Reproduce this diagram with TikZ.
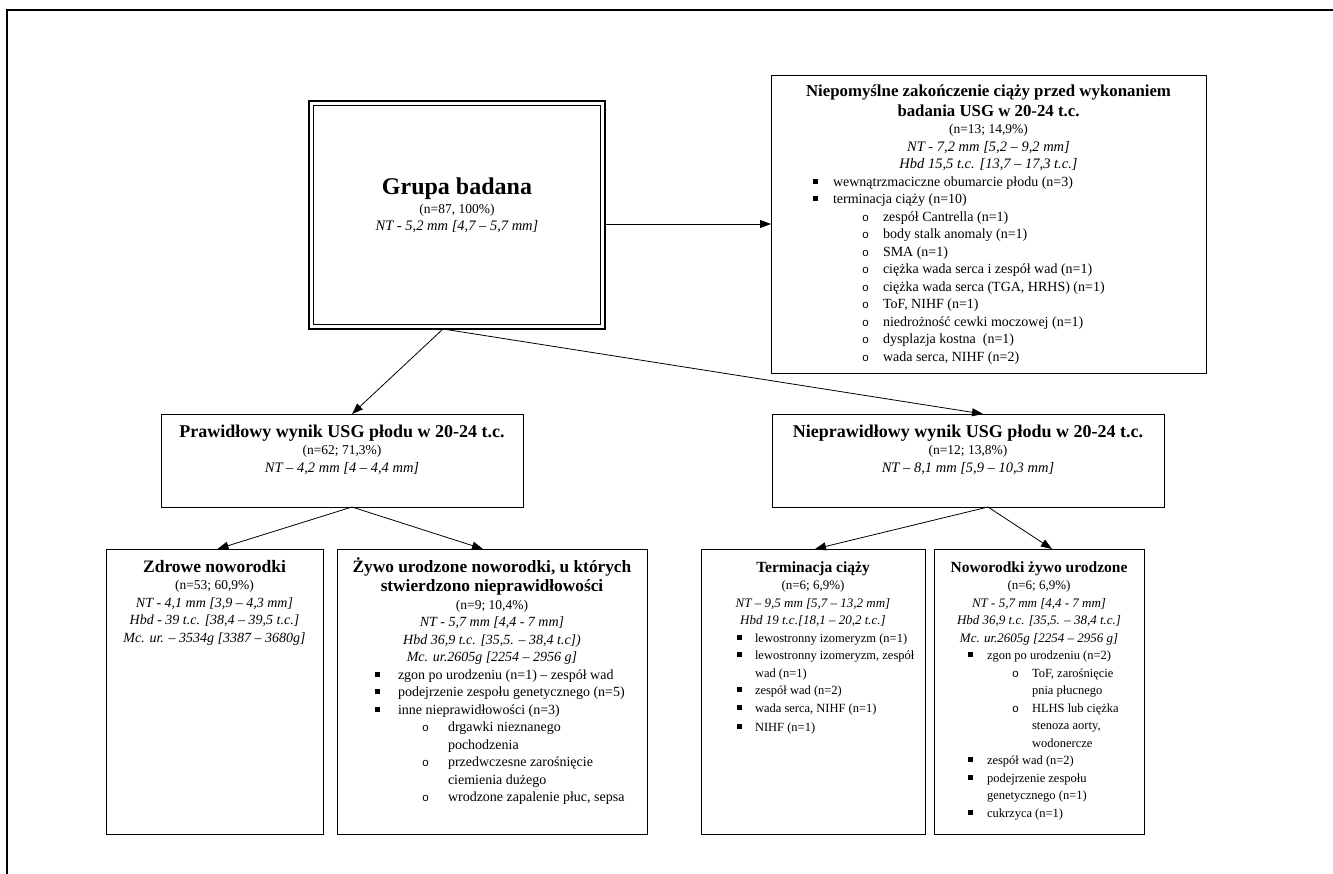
\documentclass[tikz,border=0pt]{standalone}
\usepackage{fontspec}
\setmainfont{Liberation Serif}
\newfontfamily\monof{Liberation Mono}
\usetikzlibrary{arrows.meta}
\newcommand\mySq{\raisebox{2.5pt}{\rule{5pt}{5pt}}}
\newcommand\myCi{{\monof\fontsize{11.5}{11.5}\selectfont o}}
\newcommand\nsz{13.5}
\newcommand\isz{14}
\newcommand\myBox[4]{\parbox[t][#2pt][t]{#1pt}{\fontsize{#3}{17.5}\selectfont\hyphenpenalty=10000 #4}}
\newcommand\myT[3]{{\centering\fontsize{#1}{19.5}\selectfont\bfseries\rule{0pt}{#2pt}#3\par}}
\newcommand\myC[1]{{\centering\fontsize{\nsz}{17.5}\selectfont #1\par}}
\newcommand\myI[1]{{\centering\fontsize{\isz}{17.5}\selectfont\itshape #1\par}}
\newcommand\myB[3]{\noindent\rlap{\hspace*{#1pt}\mySq}\hspace*{#2pt}\mbox{#3}\par}
\newcommand\myO[3]{\noindent\rlap{\hspace*{#1pt}\myCi}\hspace*{#2pt}\mbox{#3}\par}
\newcommand\myL[2]{\noindent\hspace*{#1pt}\mbox{#2}\par}
\begin{document}
\begin{tikzpicture}[x=1pt,y=-1pt,
  box/.style={draw, line width=0.9pt, inner sep=0pt, outer sep=0pt, anchor=north west},
  arr/.style={line width=0.8pt, -{Triangle[length=11pt,width=8pt]}}]
\useasboundingbox (0,0) rectangle (1333,874);
\fill[white] (0,0) rectangle (1333,874);
\draw[line width=1.3pt] (7,874) -- (7,10) -- (1333,10);

% Grupa badana
\node[box, line width=2.2pt] (grupa) at (309,101) {\myBox{296}{228}{14}{%
  \renewcommand\isz{14.5}%
  \myT{24}{94}{Grupa badana}\vspace{1pt}
  \myC{(n=87, 100\%)}
  \myI{NT - 5,2 mm [4,7 – 5,7 mm]}}};
\draw[line width=1.2pt] ([shift={(4.5pt,-4.5pt)}]grupa.north west) rectangle ([shift={(-4.5pt,4.5pt)}]grupa.south east);

% top right
\node[box] (top) at (771,75) {\myBox{435}{298}{14}{%
  \renewcommand\isz{14.5}%
  \myT{16.8}{22}{Niepomyślne zakończenie ciąży przed wykonaniem\\ badania USG w 20-24 t.c.}
  \myC{(n=13; 14,9\%)}
  \myI{NT - 7,2 mm [5,2 – 9,2 mm]}
  \myI{Hbd 15,5 t.c. [13,7 – 17,3 t.c.]}
  \myB{42}{62}{wewnątrzmaciczne obumarcie płodu (n=3)}
  \myB{42}{62}{terminacja ciąży (n=10)}
  \myO{91}{112}{zespół Cantrella (n=1)}
  \myO{91}{112}{body stalk anomaly (n=1)}
  \myO{91}{112}{SMA (n=1)}
  \myO{91}{112}{ciężka wada serca i zespół wad (n=1)}
  \myO{91}{112}{ciężka wada serca (TGA, HRHS) (n=1)}
  \myO{91}{112}{ToF, NIHF (n=1)}
  \myO{91}{112}{niedrożność cewki moczowej (n=1)}
  \myO{91}{112}{dysplazja kostna\ \ (n=1)}
  \myO{91}{112}{wada serca, NIHF (n=2)}}};

% second row
\node[box] (praw) at (161,414) {\myBox{362}{93}{14}{%
  \renewcommand\isz{14.5}%
  \myT{18}{23}{Prawidłowy wynik USG płodu w 20-24 t.c.}
  \myC{(n=62; 71,3\%)}
  \myI{NT – 4,2 mm [4 – 4,4 mm]}}};
\node[box] (niep) at (772,414) {\myBox{392}{93}{14}{%
  \renewcommand\isz{14.5}%
  \myT{18}{23}{Nieprawidłowy wynik USG płodu w 20-24 t.c.}
  \myC{(n=12; 13,8\%)}
  \myI{NT – 8,1 mm [5,9 – 10,3 mm]}}};

% third row
\node[box] (zdrowe) at (106,549) {\myBox{217}{285}{14}{%
  \myT{17.5}{23}{Zdrowe noworodki}
  \myC{(n=53; 60,9\%)}
  \myI{NT - 4,1 mm [3,9 – 4,3 mm]}
  \myI{Hbd - 39 t.c. [38,4 – 39,5 t.c.]}
  \myI{Mc. ur. – 3534g [3387 – 3680g]}}};
\node[box] (zywo) at (337,549) {\myBox{310}{285}{14}{%
  \myT{17.3}{23}{Żywo urodzone noworodki, u których\\ stwierdzono nieprawidłowości}
  \myC{(n=9; 10,4\%)}
  \myI{NT - 5,7 mm [4,4 - 7 mm]}
  \myI{Hbd 36,9 t.c. [35,5. – 38,4 t.c])}
  \myI{Mc. ur.2605g [2254 – 2956 g]}
  \myB{38}{61}{zgon po urodzeniu (n=1) – zespół wad}
  \myB{38}{61}{podejrzenie zespołu genetycznego (n=5)}
  \myB{38}{61}{inne nieprawidłowości (n=3)}
  \myO{85}{111}{drgawki nieznanego}
  \myL{111}{pochodzenia}
  \myO{85}{111}{przedwczesne zarośnięcie}
  \myL{111}{ciemienia dużego}
  \myO{85}{111}{wrodzone zapalenie płuc, sepsa}}};
\node[box] (term) at (701,549) {\myBox{224}{285}{12.5}{%
  \renewcommand\isz{13}\renewcommand\nsz{13}%
  \myT{15.5}{23}{Terminacja ciąży}
  \myC{(n=6; 6,9\%)}
  \myI{NT – 9,5 mm [5,7 – 13,2 mm]}
  \myI{Hbd 19 t.c.[18,1 – 20,2 t.c.]}
  \myB{36}{54}{lewostronny izomeryzm (n=1)}
  \myB{36}{54}{lewostronny izomeryzm, zespół}
  \myL{54}{wad (n=1)}
  \myB{36}{54}{zespół wad (n=2)}
  \myB{36}{54}{wada serca, NIHF (n=1)}\vspace{2pt}
  \myB{36}{54}{NIHF (n=1)}}};
\node[box] (now) at (934,549) {\myBox{210}{285}{12.5}{%
  \renewcommand\isz{13}\renewcommand\nsz{13}%
  \myT{15.5}{23}{Noworodki żywo urodzone}
  \myC{(n=6; 6,9\%)}
  \myI{NT - 5,7 mm [4,4 - 7 mm]}
  \myI{Hbd 36,9 t.c. [35,5. – 38,4 t.c.]}
  \myI{Mc. ur.2605g [2254 – 2956 g]}
  \myB{34}{53}{zgon po urodzeniu (n=2)}
  \myO{78}{98}{ToF, zarośnięcie}
  \myL{98}{pnia płucnego}
  \myO{78}{98}{HLHS lub ciężka}
  \myL{98}{stenoza aorty,}
  \myL{98}{wodonercze}
  \myB{34}{53}{zespół wad (n=2)}
  \myB{34}{53}{podejrzenie zespołu}
  \myL{53}{genetycznego (n=1)}
  \myB{34}{53}{cukrzyca (n=1)}}};

% connectors
\coordinate (gs) at ([xshift=-14pt]grupa.south);
\coordinate (ps) at ([xshift=10pt]praw.south);
\coordinate (ns) at ([xshift=20pt]niep.south);
\draw[arr] ([yshift=-9pt]grupa.east) -- (top.west);
\draw[arr] (gs) -- ([xshift=10pt]praw.north);
\draw[arr] (gs) -- ([xshift=15pt]niep.north);
\draw[arr] (ps) -- ([xshift=3pt]zdrowe.north);
\draw[arr] (ps) -- ([xshift=-9pt]zywo.north);
\draw[arr] (ns) -- ([xshift=2pt]term.north);
\draw[arr] (ns) -- ([xshift=13pt]now.north);
\end{tikzpicture}
\end{document}
